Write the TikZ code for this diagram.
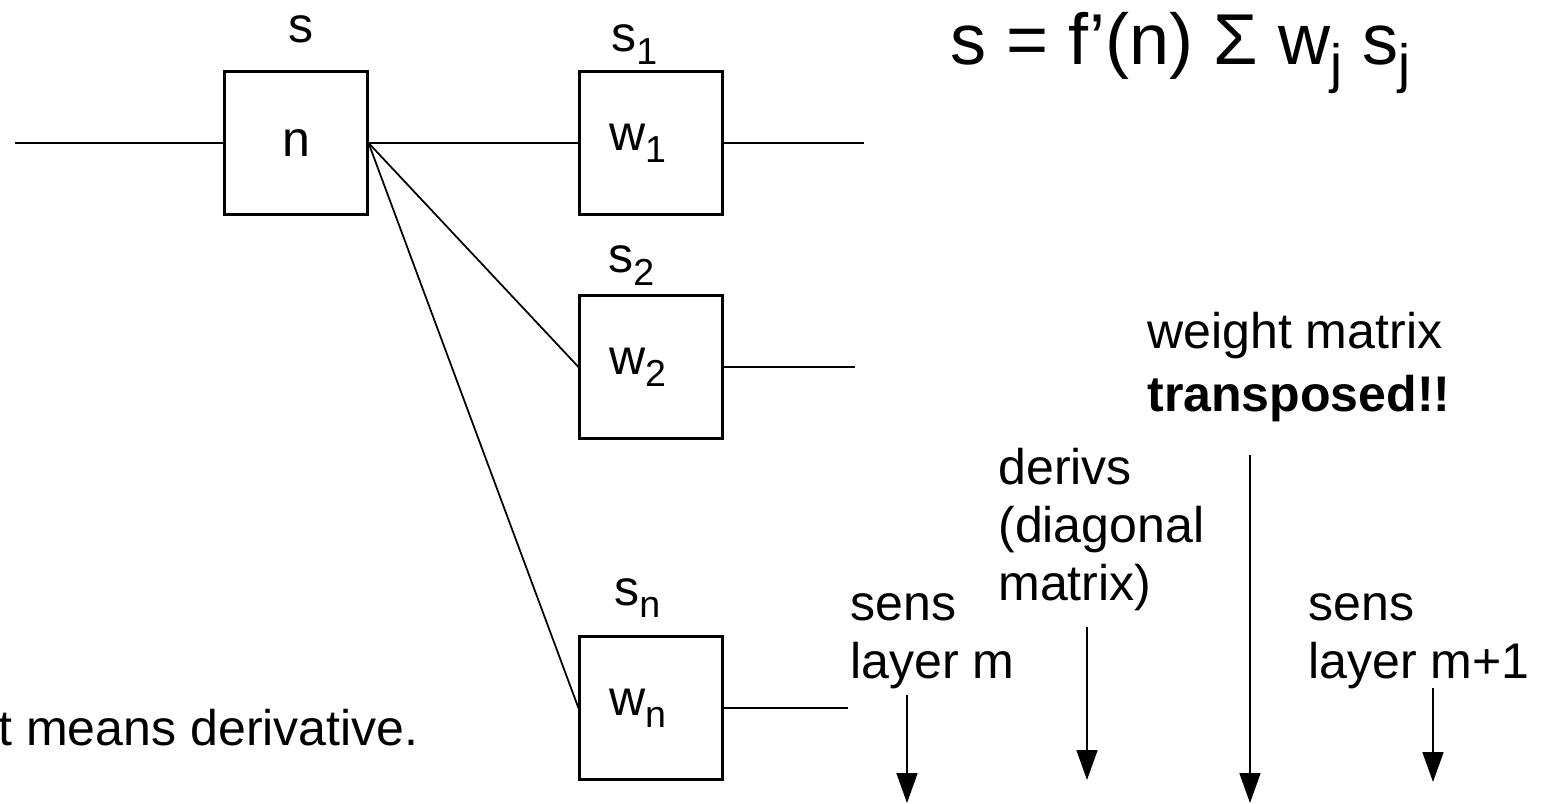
\documentclass[tikz,border=0pt]{standalone}
\usepackage{fontspec}
\setmainfont{Liberation Sans}
\usepackage{graphicx}
\usetikzlibrary{arrows.meta,positioning}
\newcommand{\lowidx}[1]{\raisebox{-0.24em}{\scalebox{0.75}{#1}}}
\newcommand{\lblfont}{\fontsize{28.5}{33}\selectfont}
\newcommand{\eqfont}{\fontsize{41}{48}\selectfont}

\begin{document}
\begin{tikzpicture}[
  x=0.02cm, y=-0.02cm,
  font=\lblfont,
  cell/.style={draw, line width=1.2pt, minimum width=2.86cm, minimum height=2.86cm, inner sep=0pt},
  wcell/.style={cell, text width=1.68cm, align=left},
  txt/.style={inner sep=0pt, anchor=base west, align=left},
  wire/.style={line width=1pt},
  arrow/.style={-{Triangle[width=0.42cm, length=0.6cm]}, line width=1pt}
]
\useasboundingbox (0,0) rectangle (1556,804);

\node[cell] (n) at (296,143) {n};
\node[wcell] (w1) at (651,143) {w\lowidx{1}};
\node[wcell] (w2) at (651,367) {w\lowidx{2}};
\node[wcell] (wn) at (651,708) {w\lowidx{n}};

\node[inner sep=0pt, anchor=base] (sens) at (301,43) {s};
\node[txt] (s1) at (611,52) {s\lowidx{1}};
\node[txt] (s2) at (608,273) {s\lowidx{2}};
\node[txt] (sn) at (614,605) {s\lowidx{n}};

\node[txt, font=\eqfont] (eq) at (950,65) {s = f’(n) Σ w\lowidx{j} s\lowidx{j}};

\node[txt] (wt) at (1147,412) {weight matrix\\[3.4pt]\textbf{transposed!!}};
\node[txt] (dv) at (998,600) {derivs\\(diagonal\\matrix)};
\node[txt] (sm) at (850,678) {sens\\layer m};
\node[txt] (smp) at (1308,678) {sens\\layer m+1};
\node[txt] (note) at (-2,745) {t means derivative.};

\coordinate (in) at (15,143);
\coordinate (o1) at (864,143);
\coordinate (o2) at (855,367);
\coordinate (on) at (848,708);

\draw[wire] (in) -- (n.west);
\draw[wire] (n.east) -- (w1.west);
\draw[wire] (n.east) -- (w2.west);
\draw[wire] (n.east) -- (wn.west);
\draw[wire] (w1.east) -- (o1);
\draw[wire] (w2.east) -- (o2);
\draw[wire] (wn.east) -- (on);

\coordinate (smtop) at (907,695);
\coordinate (smend) at (907,803);
\coordinate (dvtop) at (1087,627);
\coordinate (dvend) at (1087,780);
\coordinate (wttop) at (1250,455);
\coordinate (wtend) at (1250,803);
\coordinate (smptop) at (1433,688);
\coordinate (smpend) at (1433,782);

\draw[arrow] (smtop) -- (smend);
\draw[arrow] (dvtop) -- (dvend);
\draw[arrow] (wttop) -- (wtend);
\draw[arrow] (smptop) -- (smpend);

\end{tikzpicture}
\end{document}
